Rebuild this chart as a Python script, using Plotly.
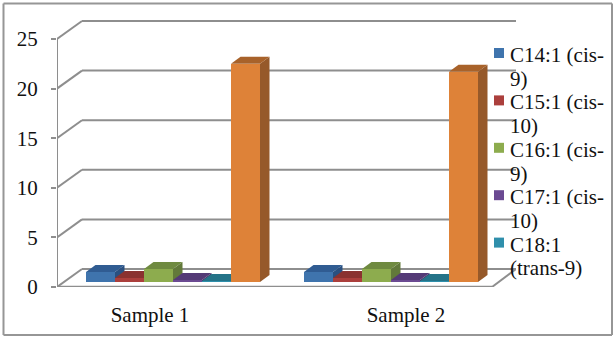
import plotly.graph_objects as go

SAMPLES = ["Sample 1", "Sample 2"]
SERIES = ["C14:1 (cis-9)", "C15:1 (cis-10)", "C16:1 (cis-9)", "C17:1 (cis-10)", "C18:1 (trans-9)", "Total"]
C14 = [1.0, 1.0]
C15 = [0.4, 0.4]
C16 = [1.3, 1.3]
C17 = [0.2, 0.2]
C18 = [0.1, 0.1]
TOTAL = [22.0, 21.2]
VALUES = [C14, C15, C16, C17, C18, TOTAL]
Y_TICKS = [0, 5, 10, 15, 20, 25]
LEGEND_LINES = [["C14:1 (cis-", "9)"], ["C15:1 (cis-", "10)"], ["C16:1 (cis-", "9)"],
                ["C17:1 (cis-", "10)"], ["C18:1", "(trans-9)"]]

FRONT = ["#3f74ad", "#ab3f3c", "#8dac4e", "#6b4a92", "#2f8fab", "#de8238"]
SIDE = ["#2a5080", "#7a2c2a", "#62793a", "#4a3368", "#1f6578", "#96592a"]
TOP = ["#305c92", "#8a3230", "#6f8a40", "#543a76", "#247388", "#a8622a"]
GRID = "#8e8e8e"
SERIF = "Liberation Serif"

W, H = 616, 339
L, R, T, B = 57, 516, 20, 287
UX = 218.0        # pixels per category
UY = 9.92         # pixels per value unit
X0 = -(173 - L) / UX
X1 = X0 + (R - L) / UX
Y1 = (B - T) / UY
WALL_DX, WALL_DY = 25 / UX, 18 / UY      # depth of the floor
BAR_DX, BAR_DY = 9.5 / UX, 7 / UY        # depth of a bar
FLOOR = 5 / UY                           # bars stand this far back on the floor
BAR_W = 29 / UX
FRONT_R = (492 - L) / UX + X0


def px(x):
    return (x - L) / (R - L)


def py(y):
    return (B - y) / (B - T)


fig = go.Figure()
shapes = []


def line(x0, y0, x1, y1, width=2):
    shapes.append(dict(type="line", layer="below", x0=x0, y0=y0, x1=x1, y1=y1,
                       line=dict(color=GRID, width=width)))


# axis walls
line(X0, 0, X0, 25)
for t in Y_TICKS:
    line(X0, t, X0 + WALL_DX, t + WALL_DY)
    line(X0 + WALL_DX, t + WALL_DY, X1, t + WALL_DY)
line(X0, 0, FRONT_R, 0, 2.5)
line(FRONT_R, 0, X1, WALL_DY)

n = len(VALUES)
for i, (vals, name) in enumerate(zip(VALUES, SERIES)):
    xs = [k + (i - (n - 1) / 2) * BAR_W for k in range(len(SAMPLES))]
    for xc, v in zip(xs, vals):
        l, r = xc - BAR_W / 2, xc + BAR_W / 2
        b, t = FLOOR, FLOOR + v
        side = f"M{r},{b} L{r + BAR_DX},{b + BAR_DY} L{r + BAR_DX},{t + BAR_DY} L{r},{t} Z"
        top = f"M{l},{t} L{l + BAR_DX},{t + BAR_DY} L{r + BAR_DX},{t + BAR_DY} L{r},{t} Z"
        shapes.append(dict(type="path", layer="below", path=side, fillcolor=SIDE[i], line=dict(width=0)))
        shapes.append(dict(type="path", layer="below", path=top, fillcolor=TOP[i], line=dict(width=0)))
    fig.add_trace(go.Bar(x=xs, y=vals, base=[FLOOR] * len(vals), width=BAR_W, name=name,
                         marker=dict(color=FRONT[i], line=dict(width=0)), showlegend=False))

# outer frame
for (x0, y0, x1, y1) in [(3.5, 3.5, 612, 3.5), (3.5, 335, 612, 335), (3.5, 3.5, 3.5, 335), (612, 3.5, 612, 335)]:
    shapes.append(dict(type="line", xref="paper", yref="paper", x0=px(x0), y0=py(y0), x1=px(x1), y1=py(y1),
                       line=dict(color="#969696", width=2)))

# legend
annotations = []
LEGEND_TOP = 55.0
LINE = 23.7
for i, lines in enumerate(LEGEND_LINES):
    yc = LEGEND_TOP + 2 * i * LINE
    shapes.append(dict(type="rect", xref="paper", yref="paper", x0=px(494), x1=px(504),
                       y0=py(yc - 7), y1=py(yc + 3), fillcolor=FRONT[i], line=dict(width=0)))
    for j, txt in enumerate(lines):
        annotations.append(dict(xref="paper", yref="paper", x=px(510), y=py(yc + j * LINE), text=txt,
                                showarrow=False, xanchor="left", yanchor="middle",
                                font=dict(family=SERIF, size=21, color="#111111"),
                                borderpad=0, borderwidth=0))

fig.update_layout(
    width=W, height=H, margin=dict(l=L, r=W - R, t=T, b=H - B, autoexpand=False),
    paper_bgcolor="white", plot_bgcolor="rgba(0,0,0,0)", showlegend=False,
    shapes=shapes, annotations=annotations, bargap=0,
    xaxis=dict(range=[X0, X1], showgrid=False, zeroline=False, showline=False,
               tickmode="array", tickvals=[-23 / UX, 233 / UX], ticktext=SAMPLES, ticks="",
               ticklabelstandoff=13, tickfont=dict(family=SERIF, size=21, color="#111111")),
    yaxis=dict(range=[0, Y1], showgrid=False, zeroline=False, showline=False,
               tickmode="array", tickvals=Y_TICKS, ticks="outside", ticklen=5, tickwidth=1.5,
               tickcolor=GRID, ticklabelstandoff=9,
               tickfont=dict(family=SERIF, size=21, color="#111111")),
)
fig.write_html("out.html", config={"displayModeBar": False},
               post_script="document.body.style.margin='0';document.documentElement.style.overflow='hidden';")
